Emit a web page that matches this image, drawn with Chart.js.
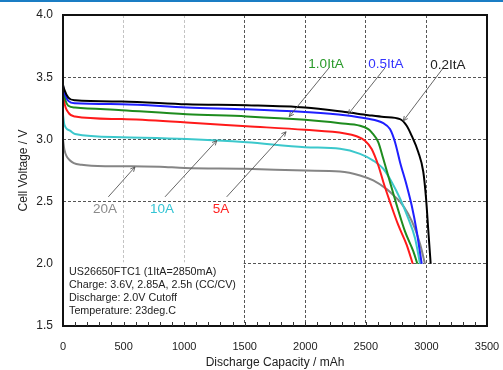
<!DOCTYPE html>
<html><head><meta charset="utf-8">
<script src="https://cdn.jsdelivr.net/npm/chart.js@4/dist/chart.umd.min.js"></script>
<style>html,body{margin:0;padding:0;background:#fff;}#wrap{width:503px;height:370px;}</style>
</head><body><div id="wrap"><canvas id="c" width="503" height="370"></canvas></div>
<script>
// ---- data (capacity mAh, voltage V) ----
const xTicks = [0, 500, 1000, 1500, 2000, 2500, 3000, 3500];
const yTicks = [1.5, 2.0, 2.5, 3.0, 3.5, 4.0];

const cap02 = [0, 11, 44, 99, 485, 1021, 1516, 1998, 2328, 2520, 2650, 2782, 2837, 2878, 2933, 2974, 2997, 3016, 3035];
const volt02 = [3.44, 3.40, 3.336, 3.314, 3.305, 3.282, 3.274, 3.256, 3.22, 3.195, 3.18, 3.163, 3.11, 3.03, 2.897, 2.74, 2.525, 2.26, 2.0];

const cap05 = [0, 11, 44, 99, 485, 1021, 1516, 1998, 2328, 2507, 2644, 2699, 2741, 2782, 2837, 2878, 2920, 2961];
const volt05 = [3.43, 3.38, 3.31, 3.29, 3.283, 3.256, 3.242, 3.22, 3.195, 3.168, 3.13, 3.083, 2.977, 2.817, 2.63, 2.47, 2.26, 2.0];

const cap10 = [0, 11, 44, 99, 485, 1021, 1516, 1998, 2287, 2452, 2520, 2548, 2603, 2644, 2699, 2755, 2823, 2892, 2925];
const volt10 = [3.42, 3.35, 3.27, 3.256, 3.235, 3.203, 3.185, 3.157, 3.13, 3.11, 3.083, 3.057, 2.977, 2.844, 2.658, 2.47, 2.26, 2.1, 2.0];

const cap5A = [0, 11, 44, 99, 485, 1021, 1516, 1998, 2328, 2424, 2493, 2548, 2603, 2644, 2699, 2768, 2837, 2887];
const volt5A = [3.40, 3.30, 3.216, 3.184, 3.163, 3.136, 3.106, 3.077, 3.048, 3.025, 2.99, 2.923, 2.79, 2.658, 2.498, 2.31, 2.152, 2.0];

const cap10A = [0, 11, 58, 99, 485, 1021, 1516, 1998, 2287, 2452, 2561, 2644, 2713, 2782, 2850, 2906, 2947];
const volt10A = [3.20, 3.12, 3.07, 3.043, 3.017, 3.003, 2.977, 2.937, 2.925, 2.884, 2.83, 2.764, 2.658, 2.525, 2.365, 2.206, 2.0];

const cap20A = [0, 11, 58, 154, 347, 567, 800, 1007, 1502, 1998, 2287, 2452, 2561, 2672, 2740, 2782, 2850, 2906, 2950, 2988];
const volt20A = [3.00, 2.92, 2.83, 2.796, 2.785, 2.785, 2.78, 2.77, 2.764, 2.75, 2.742, 2.71, 2.67, 2.60, 2.54, 2.50, 2.40, 2.28, 2.15, 2.0];

const seriesNames = ['0.2ItA', '0.5ItA', '1.0ItA', '5A', '10A', '20A'];
const seriesColors = ['#000000', '#1f1fff', '#1e8c1e', '#ff1a1a', '#3cc8cc', '#858585'];

// callout labels and arrows (data units)
const labelText = ['1.0ItA', '0.5ItA', '0.2ItA', '20A', '10A', '5A'];
const labelColor = ['#2a9a2a', '#3333ff', '#222222', '#8a8a8a', '#33c4d4', '#ff2222'];
const labelPos = [[2171, 3.60], [2666, 3.60], [3178, 3.595], [347, 2.437], [817, 2.437], [1304, 2.437]];
const arrowFrom = [[2196, 3.575], [2658, 3.575], [3139, 3.575], [374, 2.538], [842, 2.538], [1351, 2.538]];
const arrowTo = [[1868, 3.184], [2355, 3.203], [2809, 3.149], [594, 2.778], [1269, 2.99], [1841, 3.061]];

const noteLines = ['US26650FTC1 (1ItA=2850mA)', 'Charge: 3.6V, 2.85A, 2.5h (CC/CV)', 'Discharge: 2.0V Cutoff', 'Temperature: 23deg.C'];
const noteBox = [0, 1500, 2.0, 1.5]; // x from, x to, y top, y bottom
const minorStep = 100;

const caps = [cap02, cap05, cap10, cap5A, cap10A, cap20A];
const volts = [volt02, volt05, volt10, volt5A, volt10A, volt20A];

const datasets = seriesNames.map((n, i) => ({
  label: n,
  data: caps[i].map((c, j) => ({x: c, y: volts[i][j]})),
  borderColor: seriesColors[i],
  borderWidth: 2,
  pointRadius: 0,
  fill: false,
  cubicInterpolationMode: 'monotone'
}));

const FONT = 'Liberation Sans, Arial, sans-serif';

const overlay = {
  id: 'overlay',
  beforeDatasetsDraw(chart) {
    const {ctx, scales: {x, y}} = chart;
    const l = x.getPixelForValue(noteBox[0]) + 1, r = x.getPixelForValue(noteBox[1]) - 1;
    const t = y.getPixelForValue(noteBox[2]) - 1.5, b = y.getPixelForValue(noteBox[3]);
    ctx.save();
    ctx.fillStyle = '#fff';
    ctx.fillRect(l, t, r - l, b - t);
    ctx.restore();
  },
  afterDatasetsDraw(chart) {
    const {ctx, chartArea: a, scales: {x, y}} = chart;
    ctx.save();
    ctx.strokeStyle = '#111';
    ctx.lineWidth = 2;
    ctx.strokeRect(a.left, a.top, a.right - a.left, a.bottom - a.top);
    ctx.lineWidth = 1;
    ctx.strokeStyle = '#333';
    for (let v = minorStep; v < x.max; v += minorStep) {
      const px = Math.round(x.getPixelForValue(v)) + 0.5;
      ctx.beginPath(); ctx.moveTo(px, a.bottom); ctx.lineTo(px, a.bottom - 4); ctx.stroke();
    }
    for (let i = 0; i < labelText.length; i++) {
      const x1 = x.getPixelForValue(arrowFrom[i][0]), y1 = y.getPixelForValue(arrowFrom[i][1]);
      const x2 = x.getPixelForValue(arrowTo[i][0]), y2 = y.getPixelForValue(arrowTo[i][1]);
      ctx.strokeStyle = '#555'; ctx.lineWidth = 0.9;
      ctx.beginPath(); ctx.moveTo(x1, y1); ctx.lineTo(x2, y2); ctx.stroke();
      const ang = Math.atan2(y2 - y1, x2 - x1);
      ctx.beginPath();
      ctx.moveTo(x2 - 5 * Math.cos(ang - 0.45), y2 - 5 * Math.sin(ang - 0.45));
      ctx.lineTo(x2, y2);
      ctx.lineTo(x2 - 5 * Math.cos(ang + 0.45), y2 - 5 * Math.sin(ang + 0.45));
      ctx.stroke();
      ctx.fillStyle = labelColor[i];
      ctx.font = '13.5px ' + FONT;
      ctx.textAlign = 'center'; ctx.textBaseline = 'middle';
      ctx.fillText(labelText[i], x.getPixelForValue(labelPos[i][0]), y.getPixelForValue(labelPos[i][1]));
    }
    ctx.fillStyle = '#222';
    ctx.font = '10.75px ' + FONT;
    ctx.textAlign = 'left'; ctx.textBaseline = 'middle';
    const tx = x.getPixelForValue(noteBox[0]) + 6;
    const ty = y.getPixelForValue(noteBox[2]) + 8;
    noteLines.forEach((s, k) => ctx.fillText(s, tx, ty + k * 13.2));
    ctx.restore();
  },
  afterDraw(chart) {
    const {ctx, width} = chart;
    ctx.save();
    ctx.fillStyle = '#1a7dc4';
    ctx.fillRect(0, 0, width, 2);
    ctx.restore();
  }
};

new Chart(document.getElementById('c'), {
  type: 'line',
  data: {datasets},
  options: {
    responsive: false,
    devicePixelRatio: 1,
    animation: false,
    layout: {padding: {top: 15, right: 16, left: 0, bottom: 0}},
    plugins: {legend: {display: false}, tooltip: {enabled: false}},
    scales: {
      x: {
        type: 'linear', min: 0, max: 3500,
        afterFit(s) { s.height = 44; },
        afterBuildTicks(s) { s.ticks = xTicks.map(v => ({value: v})); },
        ticks: {font: {family: FONT, size: 11}, color: '#222', padding: 0, maxRotation: 0, callback: v => String(v)},
        grid: {
          drawTicks: true, tickLength: 14.5, tickColor: 'rgba(0,0,0,0)', lineWidth: 1,
          color: c => (c.tick.value === 0 || c.tick.value === 3500) ? 'rgba(0,0,0,0)' :
                      (c.tick.value < 1500 ? '#c4c4c4' : '#555')
        },
        border: {display: false, dash: [3, 2]},
        title: {display: true, text: 'Discharge Capacity / mAh', font: {family: FONT, size: 12}, color: '#222', padding: {top: 0, bottom: 0}}
      },
      y: {
        type: 'linear', min: 1.5, max: 4.0,
        afterFit(s) { s.width = 63; },
        afterBuildTicks(s) { s.ticks = yTicks.map(v => ({value: v})); },
        ticks: {font: {family: FONT, size: 12}, color: '#222', padding: 0, callback: v => Number(v).toFixed(1)},
        grid: {
          drawTicks: true, tickLength: 10, tickColor: 'rgba(0,0,0,0)', lineWidth: 1,
          color: c => (c.tick.value === 1.5 || c.tick.value === 4.0) ? 'rgba(0,0,0,0)' : '#555'
        },
        border: {display: false, dash: [3, 2]},
        title: {display: true, text: 'Cell Voltage / V', font: {family: FONT, size: 12}, color: '#222', padding: {top: 16, bottom: 0}}
      }
    }
  },
  plugins: [overlay]
});
</script>
</body></html>
